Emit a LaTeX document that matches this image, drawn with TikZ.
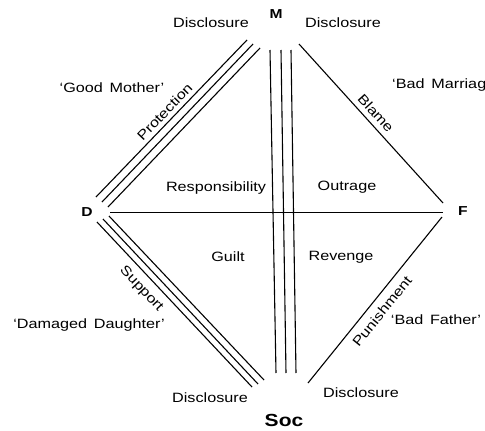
\documentclass[tikz,border=0pt]{standalone}
\usepackage{fontspec}
\setmainfont[FakeStretch=1.2]{Liberation Sans}
\usetikzlibrary{positioning}

\begin{document}
\begin{tikzpicture}[
        x=1pt, y=-1pt,
        every node/.style={font=\fontsize{13.5}{15}\selectfont, inner sep=1pt},
        vertex/.style={font=\fontsize{13}{15}\selectfont\bfseries},
        rel/.style={line width=1.1pt}
    ]
        \useasboundingbox (0,0) rectangle (485,431);

        % Vertices
        \node[vertex] (M) at (276,14) {M};
        \node[vertex] (F) at (463,211) {F};
        \node[vertex] (D) at (87,212) {D};
        \node[vertex, font=\fontsize{17.5}{20}\selectfont\bfseries] (Soc) at (284,420) {Soc};

        % Line ends
        \coordinate (dmA1) at (96,197);  \coordinate (dmB1) at (247,40);
        \coordinate (dmA2) at (102,202); \coordinate (dmB2) at (253,44);
        \coordinate (dmA3) at (108,207); \coordinate (dmB3) at (260,48);
        \coordinate (dsA1) at (97,222);  \coordinate (dsB1) at (252,387);
        \coordinate (dsA2) at (103,219); \coordinate (dsB2) at (258,384);
        \coordinate (dsA3) at (109,216); \coordinate (dsB3) at (264,380);
        \coordinate (msA1) at (270,50);  \coordinate (msB1) at (276,373);
        \coordinate (msA2) at (281,50);  \coordinate (msB2) at (286,373);
        \coordinate (msA3) at (291,50);  \coordinate (msB3) at (296,373);
        \coordinate (mf1) at (299,44);   \coordinate (mf2) at (443,203);
        \coordinate (sf1) at (308,383);  \coordinate (sf2) at (442,217);
        \coordinate (df1) at (110,212.5); \coordinate (df2) at (443,212.5);

        % Lines
        \draw[rel] (dmA1) -- node[sloped, above=3pt, pos=0.5] (protect) {Protection} (dmB1);
        \draw[rel] (dmA2) -- (dmB2);
        \draw[rel] (dmA3) -- (dmB3);
        \draw[rel] (dsA1) -- node[sloped, below=6pt, pos=0.35] (support) {Support} (dsB1);
        \draw[rel] (dsA2) -- (dsB2);
        \draw[rel] (dsA3) -- (dsB3);
        \foreach \i in {1,2,3}
            \draw[rel] (msA\i) -- (msB\i);
        \draw[rel] (mf1) -- node[sloped, above=4pt, pos=0.48] (blame) {Blame} (mf2);
        \draw[rel] (sf1) -- node[sloped, below=6pt, pos=0.48] (punish) {Punishment} (sf2);
        \draw[rel] (df1) -- (df2);

        % Disclosure
        \node (discTL) at (211,23) {Disclosure};
        \node (discTR) at (343,23) {Disclosure};
        \node (discBL) at (210,398) {Disclosure};
        \node (discBR) at (361,393) {Disclosure};

        % Roles
        \node (good) at (112,88) {`Good\enspace Mother'};
        \node[anchor=west] (marriage) at (391,85) {`Bad\enspace Marriage'};
        \node (damaged) at (89,325) {`Damaged\enspace Daughter'};
        \node (father) at (436,320) {`Bad\enspace Father'};

        % Feelings
        \node (resp) at (216,188) {Responsibility};
        \node (outrage) at (347,187) {Outrage};
        \node (guilt) at (228,257) {Guilt};
        \node (revenge) at (341,257) {Revenge};
    \end{tikzpicture}
\end{document}
